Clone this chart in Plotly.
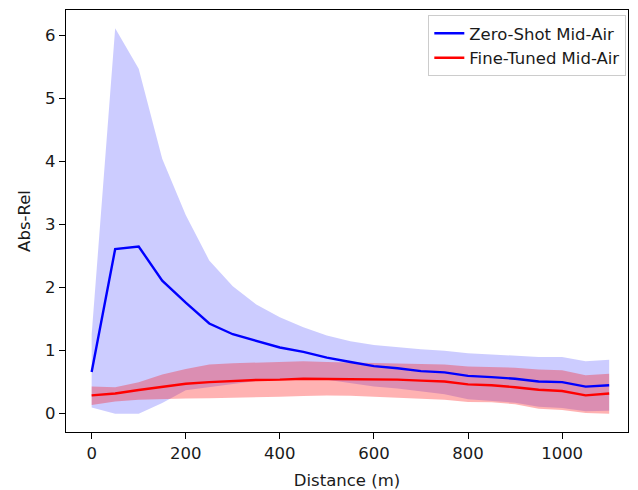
import plotly.graph_objects as go

distance = [0, 50, 100, 150, 200, 250, 300, 350, 400, 450, 500, 550,
            600, 650, 700, 750, 800, 850, 900, 950, 1000, 1050, 1100]

zero_shot_mean = [0.66, 2.61, 2.65, 2.11, 1.76, 1.43, 1.26, 1.15, 1.05, 0.98, 0.89, 0.82,
                  0.755, 0.72, 0.675, 0.655, 0.60, 0.58, 0.555, 0.51, 0.50, 0.43, 0.45]
zero_shot_upper = [1.25, 6.11, 5.47, 4.04, 3.15, 2.43, 2.02, 1.73, 1.53, 1.37, 1.24, 1.15,
                   1.09, 1.05, 1.02, 1.0, 0.96, 0.94, 0.925, 0.90, 0.90, 0.83, 0.855]
zero_shot_lower = [0.10, 0.0, 0.0, 0.17, 0.37, 0.42, 0.48, 0.52, 0.55, 0.56, 0.54, 0.49,
                   0.43, 0.40, 0.36, 0.31, 0.23, 0.20, 0.175, 0.11, 0.09, 0.04, 0.045]

fine_tuned_mean = [0.29, 0.32, 0.375, 0.43, 0.475, 0.50, 0.52, 0.535, 0.54, 0.555, 0.55, 0.55,
                   0.545, 0.54, 0.525, 0.51, 0.465, 0.45, 0.42, 0.38, 0.36, 0.29, 0.32]
fine_tuned_upper = [0.43, 0.42, 0.50, 0.62, 0.71, 0.78, 0.80, 0.81, 0.82, 0.83, 0.82, 0.81,
                    0.81, 0.80, 0.79, 0.78, 0.75, 0.74, 0.73, 0.70, 0.69, 0.61, 0.635]
fine_tuned_lower = [0.14, 0.195, 0.22, 0.235, 0.24, 0.245, 0.25, 0.26, 0.27, 0.28, 0.29, 0.285,
                    0.27, 0.26, 0.24, 0.22, 0.185, 0.18, 0.15, 0.08, 0.06, 0.01, 0.0]

x_ticks = [0, 200, 400, 600, 800, 1000]
y_ticks = [0, 1, 2, 3, 4, 5, 6]

FONT = "DejaVu Sans"
FS = 16.5
TXT = "#1a1a1a"

fig = go.Figure()

def band(x, lo, hi, color):
    fig.add_trace(go.Scatter(x=x, y=lo, mode="lines", line=dict(width=0, color=color),
                             showlegend=False, hoverinfo="skip"))
    fig.add_trace(go.Scatter(x=x, y=hi, mode="lines", line=dict(width=0, color=color),
                             fill="tonexty", fillcolor=color, showlegend=False, hoverinfo="skip"))

band(distance, zero_shot_lower, zero_shot_upper, "rgba(0,0,255,0.2)")
band(distance, fine_tuned_lower, fine_tuned_upper, "rgba(255,0,0,0.3)")

fig.add_trace(go.Scatter(x=distance, y=zero_shot_mean, mode="lines",
                         line=dict(color="#0000ff", width=2.4), name="Zero-Shot Mid-Air"))
fig.add_trace(go.Scatter(x=distance, y=fine_tuned_mean, mode="lines",
                         line=dict(color="#ff0000", width=2.4), name="Fine-Tuned Mid-Air"))

axis_common = dict(showgrid=False, zeroline=False, showline=True, linecolor="black",
                   linewidth=1.4, mirror=True, ticks="outside", ticklen=6, tickwidth=1.4,
                   tickcolor="black", automargin=False,
                   tickfont=dict(family=FONT, size=FS, color=TXT))

fig.update_xaxes(range=[-54.5, 1140], tickvals=x_ticks,
                 title=dict(text="Distance (m)", font=dict(family=FONT, size=FS, color=TXT),
                            standoff=12),
                 **axis_common)
fig.update_yaxes(range=[-0.29, 6.40], tickvals=y_ticks,
                 title=dict(text="Abs-Rel", font=dict(family=FONT, size=FS, color=TXT),
                            standoff=10),
                 **axis_common)

fig.update_layout(
    width=638, height=490,
    margin=dict(l=66, r=10, t=10, b=58),
    plot_bgcolor="white", paper_bgcolor="white",
    font=dict(family=FONT, size=FS, color=TXT),
    legend=dict(x=0.997, y=0.988, xanchor="right", yanchor="top", traceorder="normal",
                bgcolor="rgba(255,255,255,0.8)", bordercolor="#cccccc", borderwidth=1,
                font=dict(family=FONT, size=FS, color=TXT), itemwidth=30,
                tracegroupgap=0),
)

fig.write_html("out.html", config={"displayModeBar": False},
               post_script="document.body.style.margin='0px';")
